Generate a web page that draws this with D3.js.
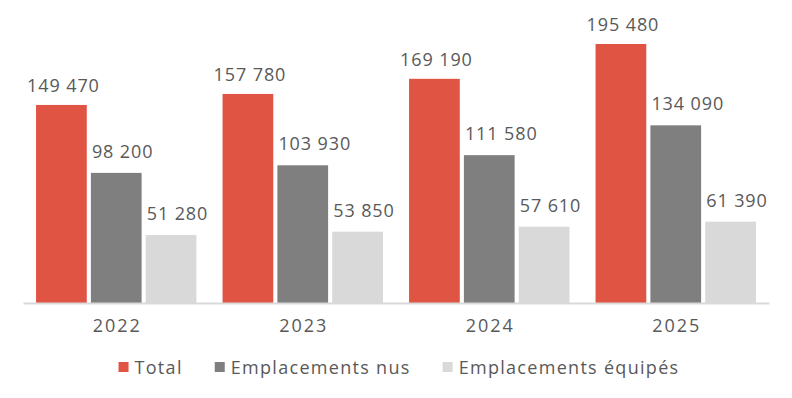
<!DOCTYPE html>
<html>
<head>
<meta charset="utf-8">
<script src="https://cdn.jsdelivr.net/npm/d3@7"></script>
<style>
  body { margin: 0; background: #fff; }
  text { font-family: "Open Sans", sans-serif; fill: #595959; }
</style>
</head>
<body>
<div id="chart"></div>
<script>
// data
const years = ["2022", "2023", "2024", "2025"];
const seriesNames = ["Total", "Emplacements nus", "Emplacements équipés"];
const total = [149470, 157780, 169190, 195480];
const nus = [98200, 103930, 111580, 134090];
const equipes = [51280, 53850, 57610, 61390];
const colors = ["#e05443", "#7f7f7f", "#d9d9d9"];

const width = 792, height = 398;
const margin = {top: 37, right: 23, bottom: 95, left: 23};

const svg = d3.select("#chart")
  .append("svg")
    .attr("width", width)
    .attr("height", height);

const values = [total, nus, equipes];
const rows = years.map((y, i) => ({year: y, vals: values.map(v => v[i])}));

const x = d3.scaleBand()
  .domain(years)
  .range([margin.left, width - margin.right])
  .paddingInner(0.14)
  .paddingOuter(0.07);

const xSub = d3.scaleBand()
  .domain(seriesNames)
  .range([0, x.bandwidth()])
  .paddingInner(0.075);

const y = d3.scaleLinear()
  .domain([0, 200000])
  .range([height - margin.bottom, height - margin.bottom - 265]);

// french style thousands: space separator
const fmt = v => d3.format(",")(v).replace(/,/g, " ");

const groups = svg.selectAll("g.year")
  .data(rows)
  .join("g")
    .attr("class", "year")
    .attr("transform", d => `translate(${x(d.year)},0)`);

groups.selectAll("rect")
  .data(d => d.vals.map((v, k) => ({name: seriesNames[k], v: v, k: k})))
  .join("rect")
    .attr("x", d => xSub(d.name))
    .attr("y", d => y(d.v))
    .attr("width", xSub.bandwidth())
    .attr("height", d => y(0) - y(d.v))
    .attr("fill", d => colors[d.k]);

// labels: total centred, the other two start at the bar's left edge
groups.selectAll("text.val")
  .data(d => d.vals.map((v, k) => ({name: seriesNames[k], v: v, k: k})))
  .join("text")
    .attr("class", "val")
    .attr("x", d => d.k === 0 ? xSub(d.name) + xSub.bandwidth() / 2 + 2 : xSub(d.name) + 1)
    .attr("y", d => y(d.v) - (d.k === 0 ? 20 : 22))
    .attr("text-anchor", d => d.k === 0 ? "middle" : "start")
    .attr("dominant-baseline", "central")
    .style("font-size", "18px")
    .style("letter-spacing", "0.9px")
    .text(d => fmt(d.v));

// x axis
const xAxis = svg.append("g")
  .attr("transform", `translate(0,${y(0)})`)
  .call(d3.axisBottom(x).tickSize(0).tickPadding(16));
xAxis.select(".domain").attr("stroke", "#d9d9d9").attr("stroke-width", 2);
xAxis.selectAll("text")
  .attr("dx", "1px")
  .style("font-size", "18px")
  .style("letter-spacing", "2px")
  .style("font-family", "'Open Sans', sans-serif")
  .attr("fill", "#595959");

// legend
const legend = svg.append("g");
let lx = 0;
seriesNames.forEach((n, k) => {
  const g = legend.append("g").attr("transform", `translate(${lx},0)`);
  g.append("rect").attr("x", 0).attr("y", -5).attr("width", 10).attr("height", 10).attr("fill", colors[k]);
  const t = g.append("text").attr("x", 16).attr("y", 0)
    .attr("dominant-baseline", "central")
    .style("font-size", "18px")
    .style("letter-spacing", "1.3px")
    .text(n);
  lx += 16 + t.node().getComputedTextLength() + 32;
});
lx -= 32;
legend.attr("transform", `translate(${(width - lx) / 2 + 3},367)`);
</script>
</body>
</html>
